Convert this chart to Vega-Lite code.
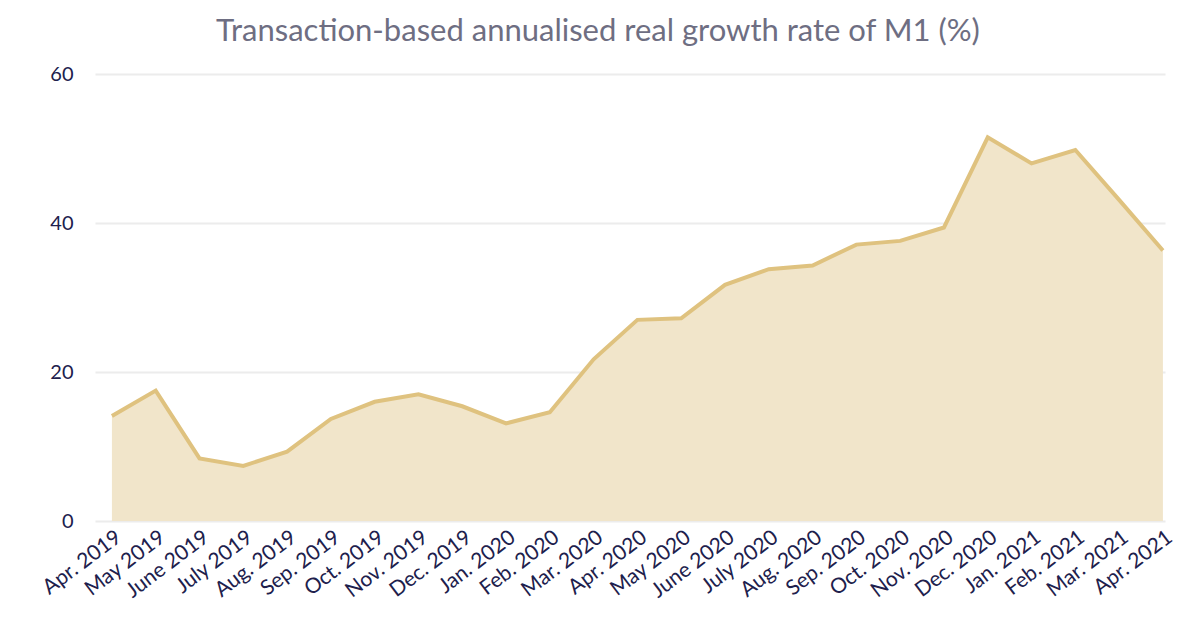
{
  "$schema": "https://vega.github.io/schema/vega-lite/v6.json",
  "autosize": {"type": "none"},
  "padding": {"left": 95, "top": 74, "right": 32, "bottom": 100},
  "width": 1070,
  "height": 447,
  "background": "#ffffff",
  "title": {
    "text": "Transaction-based annualised real growth rate of M1 (%)",
    "anchor": "middle",
    "frame": "group",
    "dx": -32,
    "offset": 16,
    "font": "Lato",
    "fontSize": 31,
    "fontWeight": "normal",
    "color": "#6e6e82"
  },
  "config": {
    "view": {"stroke": null},
    "font": "Lato"
  },
  "data": {
    "values": [
      {"month": "Apr. 2019", "value": 14.1},
      {"month": "May 2019", "value": 17.5},
      {"month": "June 2019", "value": 8.4},
      {"month": "July 2019", "value": 7.4},
      {"month": "Aug. 2019", "value": 9.3},
      {"month": "Sep. 2019", "value": 13.7},
      {"month": "Oct. 2019", "value": 16.0},
      {"month": "Nov. 2019", "value": 17.0},
      {"month": "Dec. 2019", "value": 15.4},
      {"month": "Jan. 2020", "value": 13.1},
      {"month": "Feb. 2020", "value": 14.6},
      {"month": "Mar. 2020", "value": 21.7},
      {"month": "Apr. 2020", "value": 27.0},
      {"month": "May 2020", "value": 27.2},
      {"month": "June 2020", "value": 31.7},
      {"month": "July 2020", "value": 33.8},
      {"month": "Aug. 2020", "value": 34.3},
      {"month": "Sep. 2020", "value": 37.1},
      {"month": "Oct. 2020", "value": 37.6},
      {"month": "Nov. 2020", "value": 39.4},
      {"month": "Dec. 2020", "value": 51.5},
      {"month": "Jan. 2021", "value": 48.0},
      {"month": "Feb. 2021", "value": 49.8},
      {"month": "Mar. 2021", "value": 43.1},
      {"month": "Apr. 2021", "value": 36.3}
    ]
  },
  "encoding": {
    "x": {
      "field": "month",
      "type": "ordinal",
      "sort": null,
      "scale": {"type": "point", "padding": 0.217, "align": 0.89},
      "axis": {
        "title": null,
        "domain": false,
        "ticks": false,
        "grid": false,
        "labelAngle": -37,
        "labelPadding": 5,
        "labelFont": "Lato",
        "labelFontSize": 21,
        "labelColor": "#20204c"
      }
    },
    "y": {
      "field": "value",
      "type": "quantitative",
      "scale": {"domain": [0, 60], "nice": false},
      "axis": {
        "title": null,
        "values": [0, 20, 40, 60],
        "domain": false,
        "ticks": false,
        "grid": true,
        "gridColor": "#ececec",
        "gridWidth": 2,
        "labelPadding": 22,
        "labelFont": "Lato",
        "labelFontSize": 20,
        "labelColor": "#20204c"
      }
    }
  },
  "layer": [
    {"mark": {"type": "area", "color": "#f1e5ca", "opacity": 1}},
    {"mark": {"type": "line", "color": "#dfc27f", "strokeWidth": 4, "strokeJoin": "miter"}}
  ]
}
